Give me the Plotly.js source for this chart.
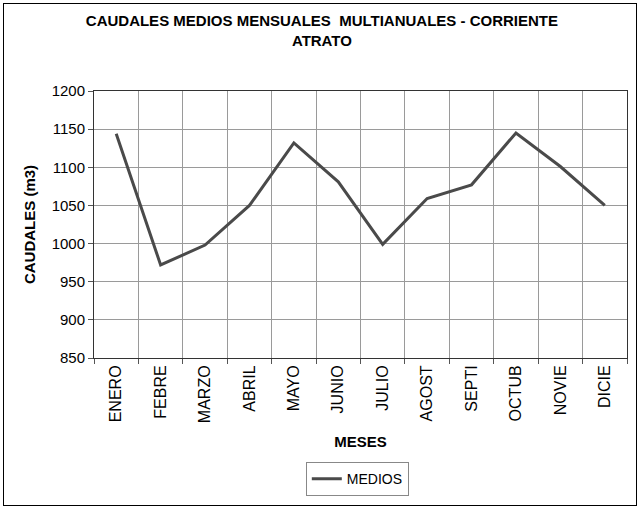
<!DOCTYPE html>
<html>
<head>
<meta charset="utf-8">
<script src="https://cdn.plot.ly/plotly-3.0.1.min.js"></script>
<style>
  html, body { margin: 0; padding: 0; background: #fff; }
  #wrap { position: relative; width: 640px; height: 508px; }
  #chart { position: absolute; left: 0; top: 0; width: 640px; height: 508px; }
  #frame { position: absolute; left: 3px; top: 3px; width: 632px; height: 501px; border: 1px solid #000; pointer-events: none; }
</style>
</head>
<body>
<div id="wrap">
  <div id="chart"></div>
  <div id="frame"></div>
</div>
<script>
const meses = ["ENERO", "FEBRE", "MARZO", "ABRIL", "MAYO", "JUNIO", "JULIO", "AGOST", "SEPTI", "OCTUB", "NOVIE", "DICIE"];
const medios = [1144, 972, 998, 1050, 1132, 1081, 999, 1059, 1077, 1145, 1101, 1050];
const yTicks = [850, 900, 950, 1000, 1050, 1100, 1150, 1200];

const narrow = "Liberation Sans Narrow, Arial Narrow, Liberation Sans, Arial, sans-serif";
const sans = "Liberation Sans, Arial, sans-serif";

const trace = {
  x: meses,
  y: medios,
  type: "scatter",
  mode: "lines",
  name: "MEDIOS",
  line: { color: "#4a4a4a", width: 3 }
};

const layout = {
  width: 640,
  height: 508,
  margin: { l: 94, r: 13, t: 91, b: 150 },
  paper_bgcolor: "#ffffff",
  plot_bgcolor: "#ffffff",
  title: {
    text: "<b>CAUDALES MEDIOS MENSUALES  MULTIANUALES - CORRIENTE<br>ATRATO</b>",
    font: { family: sans, size: 15, color: "#000" },
    x: 0.503,
    xanchor: "center",
    xref: "container",
    y: 0.948,
    yanchor: "top",
    yref: "container"
  },
  xaxis: {
    type: "category",
    range: [-0.5, 11.5],
    tickson: "boundaries",
    showgrid: true,
    gridcolor: "#9a9a9a",
    gridwidth: 1,
    showline: true,
    linecolor: "#333",
    linewidth: 1,
    mirror: true,
    ticks: "outside",
    ticklen: 5,
    tickcolor: "#555",
    tickangle: -90,
    tickfont: { family: narrow, size: 16, color: "#000" },
    title: {
      text: "<b>MESES</b>",
      font: { family: sans, size: 15, color: "#000" },
      standoff: 14
    },
    fixedrange: true
  },
  yaxis: {
    range: [850, 1200],
    tickvals: yTicks,
    ticktext: yTicks.map(String),
    showgrid: true,
    gridcolor: "#9a9a9a",
    gridwidth: 1,
    showline: true,
    linecolor: "#333",
    linewidth: 1,
    mirror: true,
    ticks: "outside",
    ticklen: 5,
    tickcolor: "#555",
    zeroline: false,
    tickfont: { family: narrow, size: 15, color: "#000" },
    title: {
      text: "<b>CAUDALES (m3)</b>",
      font: { family: sans, size: 15, color: "#000" },
      standoff: 12
    },
    fixedrange: true
  },
  showlegend: true,
  legend: {
    x: 0.494,
    xanchor: "center",
    y: -0.39,
    yanchor: "top",
    bordercolor: "#888",
    borderwidth: 1,
    bgcolor: "#fff",
    itemwidth: 30,
    font: { family: sans, size: 14, color: "#000" }
  }
};

Plotly.newPlot("chart", [trace], layout, { displayModeBar: false, staticPlot: true });
</script>
</body>
</html>
